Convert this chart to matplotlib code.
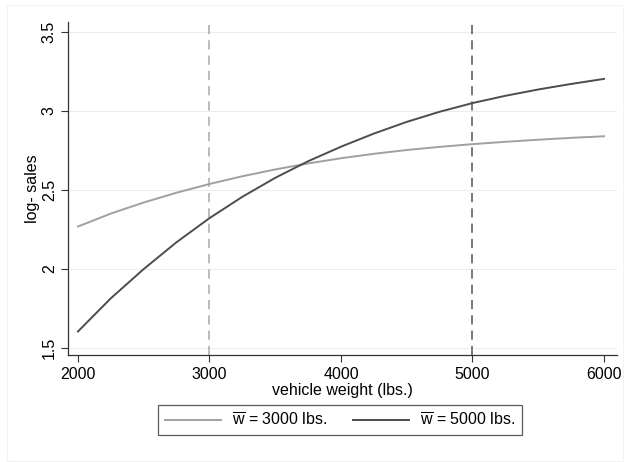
import matplotlib
matplotlib.use("Agg")
import matplotlib.pyplot as plt
from matplotlib.patches import Rectangle

# --- Data ---
weight = [2000, 2250, 2500, 2750, 3000, 3250, 3500, 3750, 4000,
          4250, 4500, 4750, 5000, 5250, 5500, 5750, 6000]
sales_3000 = [2.269, 2.351, 2.421, 2.483, 2.538, 2.587, 2.630, 2.668, 2.701,
              2.729, 2.753, 2.773, 2.790, 2.805, 2.818, 2.830, 2.840]
sales_5000 = [1.605, 1.815, 2.0, 2.17, 2.322, 2.457, 2.577, 2.682, 2.774,
              2.857, 2.931, 2.995, 3.05, 3.096, 3.136, 3.171, 3.203]
ref_weights = [3000, 5000]
labels = [r"$\overline{\mathrm{w}}$ = 3000 lbs.", r"$\overline{\mathrm{w}}$ = 5000 lbs."]
xticks = [2000, 3000, 4000, 5000, 6000]
yticks = [1.5, 2, 2.5, 3, 3.5]
ytick_labels = ["1.5", "2", "2.5", "3", "3.5"]

light = "#a0a0a0"
dark = "#4d4d4d"

plt.rcParams["font.family"] = ["Liberation Sans", "DejaVu Sans"]
plt.rcParams["mathtext.fontset"] = "custom"
plt.rcParams["mathtext.rm"] = "Liberation Sans"

fs = 11.5

fig = plt.figure(figsize=(6.24, 4.62), dpi=100)
fig.patches.append(Rectangle((7 / 624, 1 / 462), 616 / 624, 456 / 462,
                             transform=fig.transFigure, fill=False,
                             edgecolor="#f4f4f4", linewidth=0.8))
ax = fig.add_axes([68 / 624, 1 - 355 / 462, 549 / 624, 333 / 462])

# grid
for yv in yticks:
    ax.axhline(yv, color="#e6eef0", linewidth=0.8, zorder=0)

ax.axvline(ref_weights[0], color="#a8a8a8", linestyle=(0, (6, 4)), linewidth=1.1)
ax.axvline(ref_weights[1], color="#555555", linestyle=(0, (6, 4)), linewidth=1.1)

l1, = ax.plot(weight, sales_3000, color=light, linewidth=1.4)
l2, = ax.plot(weight, sales_5000, color=dark, linewidth=1.4)

ax.set_xlim(1924, 6099)
ax.set_ylim(1.456, 3.563)
ax.set_xticks(xticks)
ax.set_yticks(yticks)
ax.set_yticklabels(ytick_labels, rotation=90, va="center")
ax.tick_params(axis="both", direction="out", length=5, width=0.8,
               colors="#333333", labelcolor="black", labelsize=fs)
ax.tick_params(axis="y", pad=3)

for s in ["top", "right"]:
    ax.spines[s].set_visible(False)
for s in ["left", "bottom"]:
    ax.spines[s].set_color("#333333")
    ax.spines[s].set_linewidth(0.9)

ax.set_xlabel("vehicle weight (lbs.)", fontsize=fs, labelpad=1)
ax.set_ylabel("log- sales", fontsize=fs, labelpad=1.5)

leg = fig.legend([l1, l2], labels, loc="center", ncol=2,
                 bbox_to_anchor=(340 / 624, 1 - 420 / 462),
                 frameon=True, fancybox=False, fontsize=fs,
                 handlelength=3.5, handletextpad=0.7, columnspacing=1.6,
                 borderpad=0.4)
leg.get_frame().set_edgecolor("#333333")
leg.get_frame().set_linewidth(0.9)

fig.savefig("out.png", dpi=100)
